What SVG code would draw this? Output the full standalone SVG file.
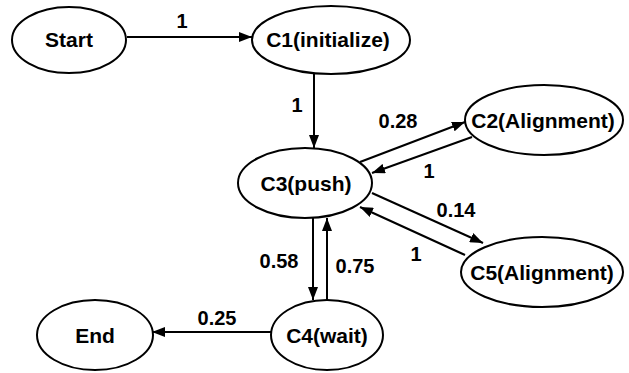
<svg xmlns="http://www.w3.org/2000/svg" width="629" height="373" viewBox="0 0 629 373">
  <style>
    .node ellipse { fill: #ffffff; stroke: #000000; stroke-width: 2; }
    .node text, .label { font-family: "Liberation Sans", Arial, sans-serif; font-weight: bold; fill: #000000; text-anchor: middle; }
    .node text { font-size: 21px; }
    .label { font-size: 20px; }
    .edge { stroke: #000000; stroke-width: 2; fill: none; marker-end: url(#arrow); }
  </style>
  <defs>
    <marker id="arrow" markerUnits="userSpaceOnUse" markerWidth="13" markerHeight="10" refX="13" refY="5" orient="auto">
      <path d="M0,0 L13,5 L0,10 Z" fill="#000000"/>
    </marker>
  </defs>
  <rect width="629" height="373" fill="#ffffff"/>

  <g id="connectors">
    <line class="edge" x1="127" y1="37" x2="252" y2="37"/>
    <line class="edge" x1="314" y1="73" x2="314" y2="148"/>
    <line class="edge" x1="360" y1="162" x2="465" y2="122"/>
    <line class="edge" x1="472" y1="137" x2="372" y2="173"/>
    <line class="edge" x1="372" y1="193" x2="483" y2="243"/>
    <line class="edge" x1="465" y1="255" x2="360" y2="207"/>
    <line class="edge" x1="313" y1="218" x2="313" y2="300"/>
    <line class="edge" x1="327" y1="300" x2="327" y2="218"/>
    <line class="edge" x1="272" y1="332" x2="152" y2="332"/>

    <text class="label" x="182" y="28">1</text>
    <text class="label" x="297" y="112">1</text>
    <text class="label" x="398" y="128">0.28</text>
    <text class="label" x="429" y="178">1</text>
    <text class="label" x="456" y="217">0.14</text>
    <text class="label" x="416" y="261">1</text>
    <text class="label" x="279" y="268">0.58</text>
    <text class="label" x="355" y="273">0.75</text>
    <text class="label" x="217" y="325">0.25</text>
  </g>

  <g id="start" class="node">
    <ellipse cx="69" cy="40" rx="57" ry="33"/>
    <text x="69" y="47">Start</text>
  </g>
  <g id="c1" class="node">
    <ellipse cx="331" cy="40" rx="79" ry="34"/>
    <text x="328" y="47">C1(initialize)</text>
  </g>
  <g id="c2" class="node">
    <ellipse cx="544" cy="120" rx="79" ry="35"/>
    <text x="543" y="128">C2(Alignment)</text>
  </g>
  <g id="c3" class="node">
    <ellipse cx="305" cy="183" rx="67" ry="35"/>
    <text x="306" y="191">C3(push)</text>
  </g>
  <g id="c5" class="node">
    <ellipse cx="542" cy="272" rx="81" ry="35"/>
    <text x="542" y="280">C5(Alignment)</text>
  </g>
  <g id="c4" class="node">
    <ellipse cx="327" cy="335" rx="56" ry="35"/>
    <text x="327" y="343">C4(wait)</text>
  </g>
  <g id="end" class="node">
    <ellipse cx="95" cy="335" rx="58" ry="35"/>
    <text x="95" y="343">End</text>
  </g>
</svg>
